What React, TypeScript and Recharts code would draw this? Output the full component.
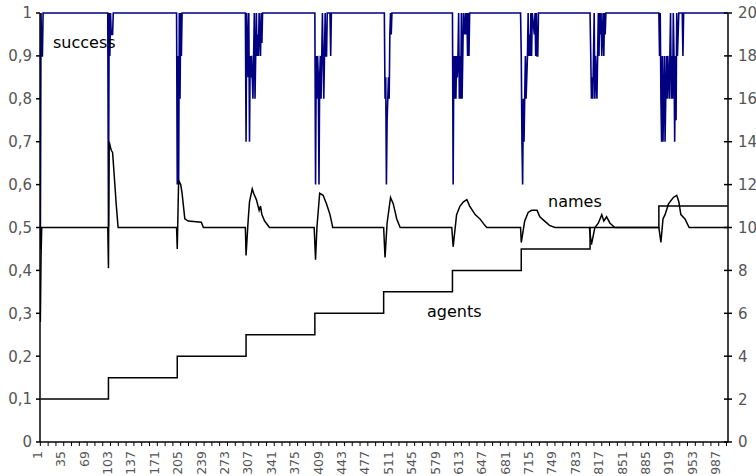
import React from "react";
import { LineChart, Line, XAxis, YAxis } from "recharts";

// category labels shown on the x axis (every 34th iteration)
const xLabels = [
  1, 35, 69, 103, 137, 171, 205, 239, 273, 307, 341, 375, 409, 443, 477, 511,
  545, 579, 613, 647, 681, 715, 749, 783, 817, 851, 885, 919, 953, 987,
];
const leftTicks = [0, 0.1, 0.2, 0.3, 0.4, 0.5, 0.6, 0.7, 0.8, 0.9, 1];
const rightTicks = [0, 2, 4, 6, 8, 10, 12, 14, 16, 18, 20];

// agents (right axis), step changes
const agentSteps: [number, number][] = [
  [1, 2], [100, 3], [200, 4], [300, 5], [400, 6], [500, 7],
  [600, 8], [700, 9], [800, 10], [900, 11], [1000, 11],
];

// names (right axis)
const namesPoints: [number, number][] = [
  [1, 5.6], [2, 8.6], [3, 10],
  [99, 10], [100, 8.1], [101, 14], [104, 13.6], [106, 13.5], [108, 12.6], [111, 11.2], [114, 10],
  [199, 10], [200, 9], [202, 12.2], [205, 12], [207, 11.6], [209, 11], [211, 10.4], [216, 10.3], [235, 10.25], [238, 10],
  [299, 10], [300, 8.7], [303, 10.3], [305, 11.2], [309, 11.8], [311, 11.6], [315, 11.3], [319, 10.8], [321, 11], [323, 10.6], [327, 10.3], [334, 10],
  [399, 10], [401, 8.5], [403, 10], [407, 11.6], [412, 11.5], [417, 11.1], [422, 10.6], [426, 10],
  [500, 10], [502, 8.6], [505, 10.2], [510, 11.4], [514, 11.1], [519, 10.4], [524, 10],
  [599, 10], [601, 9.1], [606, 10.6], [611, 11], [616, 11.2], [621, 11.3], [625, 11], [633, 10.6], [640, 10.4], [647, 10.1], [650, 10],
  [699, 10], [700, 9.3], [705, 10.3], [710, 10.7], [715, 10.8], [720, 10.8], [723, 10.8], [727, 10.5], [734, 10.3], [741, 10.1], [749, 10],
  [799, 10], [802, 9.2], [807, 10], [812, 10.2], [817, 10.6], [820, 10.3], [824, 10.5], [829, 10.2], [836, 10],
  [900, 10], [903, 9.3], [906, 10.4], [909, 10.6], [914, 11.1], [921, 11.4], [926, 11.5], [929, 11.2], [932, 10.6], [938, 10.4], [944, 10],
  [1000, 10],
];

// success (left axis)
const successPoints: [number, number][] = [
  [1, 0.45], [2, 1], [3, 0.9], [4, 0.9], [5, 1],
  [99, 1], [100, 0.5], [101, 1], [102, 0.9], [103, 1], [104, 0.95], [106, 0.95], [107, 1],
  [199, 1], [200, 0.6], [201, 0.9], [202, 0.6], [203, 1], [204, 0.8], [205, 1], [206, 0.9], [207, 1],
  [299, 1], [300, 0.7], [301, 1], [303, 0.85], [304, 1], [305, 0.7], [306, 0.9], [307, 0.85], [308, 0.9], [310, 0.8], [311, 0.9], [312, 1], [313, 0.8], [314, 0.9], [315, 1], [316, 0.9], [317, 0.95], [318, 0.9], [319, 1], [321, 0.9], [322, 1], [323, 0.93], [324, 1],
  [400, 1], [401, 0.6], [402, 0.9], [403, 0.8], [404, 0.9], [405, 0.85], [406, 0.6], [407, 0.85], [408, 0.9], [409, 0.8], [410, 0.9], [411, 1], [412, 0.9], [413, 0.8], [414, 0.9], [415, 1], [416, 0.9], [417, 0.9], [418, 1], [422, 1], [423, 0.9], [424, 1],
  [501, 1], [502, 0.8], [503, 0.85], [504, 0.6], [505, 0.75], [506, 0.8], [507, 0.85], [508, 0.8], [509, 0.95], [510, 1], [511, 0.95], [512, 1],
  [600, 1], [601, 0.6], [602, 0.9], [603, 0.8], [604, 0.9], [605, 0.8], [606, 0.9], [607, 0.85], [608, 0.9], [609, 1], [610, 0.8], [611, 0.9], [612, 0.8], [613, 1], [614, 0.8], [615, 0.9], [616, 1], [618, 0.95], [619, 1], [620, 0.95], [621, 1], [622, 0.9], [623, 1], [624, 0.9], [625, 1],
  [699, 1], [700, 0.9], [701, 0.7], [702, 0.6], [703, 0.8], [704, 0.7], [705, 0.8], [706, 0.9], [707, 0.8], [708, 0.85], [709, 0.9], [710, 1], [711, 0.9], [712, 0.95], [713, 0.9], [714, 1], [715, 0.9], [716, 1], [719, 0.95], [720, 1], [721, 0.9], [722, 1], [723, 0.9], [724, 0.9], [725, 1],
  [800, 1], [801, 0.9], [802, 0.8], [803, 0.85], [804, 0.8], [805, 0.9], [806, 1], [807, 0.8], [808, 0.9], [809, 0.85], [810, 0.8], [811, 0.9], [812, 1], [813, 0.9], [814, 1], [815, 0.95], [816, 1], [817, 0.9], [818, 0.95], [819, 1], [820, 0.9], [821, 1], [822, 0.95], [823, 1],
  [900, 1], [901, 0.9], [902, 1], [903, 0.8], [904, 0.7], [905, 0.9], [906, 0.7], [907, 0.8], [908, 0.9], [909, 0.7], [910, 0.8], [911, 0.9], [912, 0.8], [913, 0.9], [914, 0.85], [915, 0.8], [916, 0.9], [917, 1], [918, 0.8], [919, 0.9], [920, 0.8], [921, 1], [922, 0.9], [923, 0.7], [924, 0.9], [925, 0.75], [926, 1], [927, 0.9], [928, 0.95], [929, 1], [934, 1], [935, 0.9], [936, 1],
  [1000, 1],
];

const toXY = (pts: [number, number][]) => pts.map(([x, y]) => ({ x, y }));
const successData = toXY(successPoints);
const namesData = toXY(namesPoints);
const agentsData = toXY(agentSteps);

// two minor tick marks between each labelled category
const xTicks: number[] = [];
xLabels.forEach((a, i) => {
  const b = i < xLabels.length - 1 ? xLabels[i + 1] : a + 34;
  for (let j = 0; j < 3; j++) {
    const t = a + ((b - a) * j) / 3;
    if (t <= 1000) xTicks.push(t);
  }
});

const FONT = "'DejaVu Sans', Verdana, sans-serif";
const LABEL = "#555";

const fmtLeft = (v: number) => (v === 0 || v === 1 ? String(v) : v.toFixed(1).replace(".", ","));

function XTick(props: any) {
  const { x, y, payload } = props;
  if (!xLabels.includes(payload.value)) return <g />;
  return (
    <text
      transform={`translate(${x - 3},${y + 5}) rotate(-90)`}
      textAnchor="end"
      dominantBaseline="central"
      fontSize={12.5}
      fill={LABEL}
      fontFamily={FONT}
    >
      {payload.value}
    </text>
  );
}

function RightTick(props: any) {
  const { x, y, payload } = props;
  return (
    <g>
      <line x1={x - 4} x2={x + 4} y1={y} y2={y} stroke="#000" strokeWidth={1.5} />
      <text x={x + 10} y={y} dy="0.36em" fontSize={15} fill={LABEL} fontFamily={FONT}>
        {payload.value}
      </text>
    </g>
  );
}

export default function App() {
  return (
    <div style={{ position: "absolute", left: 0, top: 0, width: 756, height: 476, background: "#fff" }}>
      <LineChart width={756} height={476} margin={{ top: 13, right: 0, bottom: 0, left: 0 }}>
        <XAxis
          type="number"
          dataKey="x"
          domain={[0.5, 1000.5]}
          allowDataOverflow
          ticks={xTicks}
          interval={0}
          height={34}
          tickSize={4}
          tickMargin={0}
          tickLine={{ stroke: "#000", strokeWidth: 1 }}
          axisLine={{ stroke: "#000", strokeWidth: 1.5 }}
          tick={<XTick />}
        />
        <YAxis
          yAxisId="left"
          domain={[0, 1]}
          ticks={leftTicks}
          interval={0}
          width={40}
          tickSize={4}
          tickMargin={4}
          tickFormatter={fmtLeft}
          tickLine={{ stroke: "#000", strokeWidth: 1.5 }}
          axisLine={{ stroke: "#000", strokeWidth: 1.5 }}
          tick={{ fill: LABEL, fontSize: 15, fontFamily: FONT }}
        />
        <YAxis
          yAxisId="right"
          orientation="right"
          domain={[0, 20]}
          ticks={rightTicks}
          interval={0}
          width={28}
          tickSize={0}
          tickMargin={0}
          tickLine={false}
          axisLine={{ stroke: "#000", strokeWidth: 1.5 }}
          tick={<RightTick />}
        />
        <Line
          yAxisId="left"
          data={successData}
          dataKey="y"
          type="linear"
          stroke="#000080"
          strokeWidth={1.6}
          dot={false}
          isAnimationActive={false}
        />
        <Line
          yAxisId="right"
          data={agentsData}
          dataKey="y"
          type="stepAfter"
          stroke="#000"
          strokeWidth={1.5}
          dot={false}
          isAnimationActive={false}
        />
        <Line
          yAxisId="right"
          data={namesData}
          dataKey="y"
          type="linear"
          stroke="#000"
          strokeWidth={1.5}
          dot={false}
          isAnimationActive={false}
        />
      </LineChart>
      <svg
        width={756}
        height={476}
        style={{ position: "absolute", left: 0, top: 0, pointerEvents: "none" }}
      >
        <g fontFamily={FONT} fontSize={16} fill="#000">
          <text x={53} y={48}>success</text>
          <text x={548} y={207}>names</text>
          <text x={427} y={317}>agents</text>
        </g>
      </svg>
    </div>
  );
}
